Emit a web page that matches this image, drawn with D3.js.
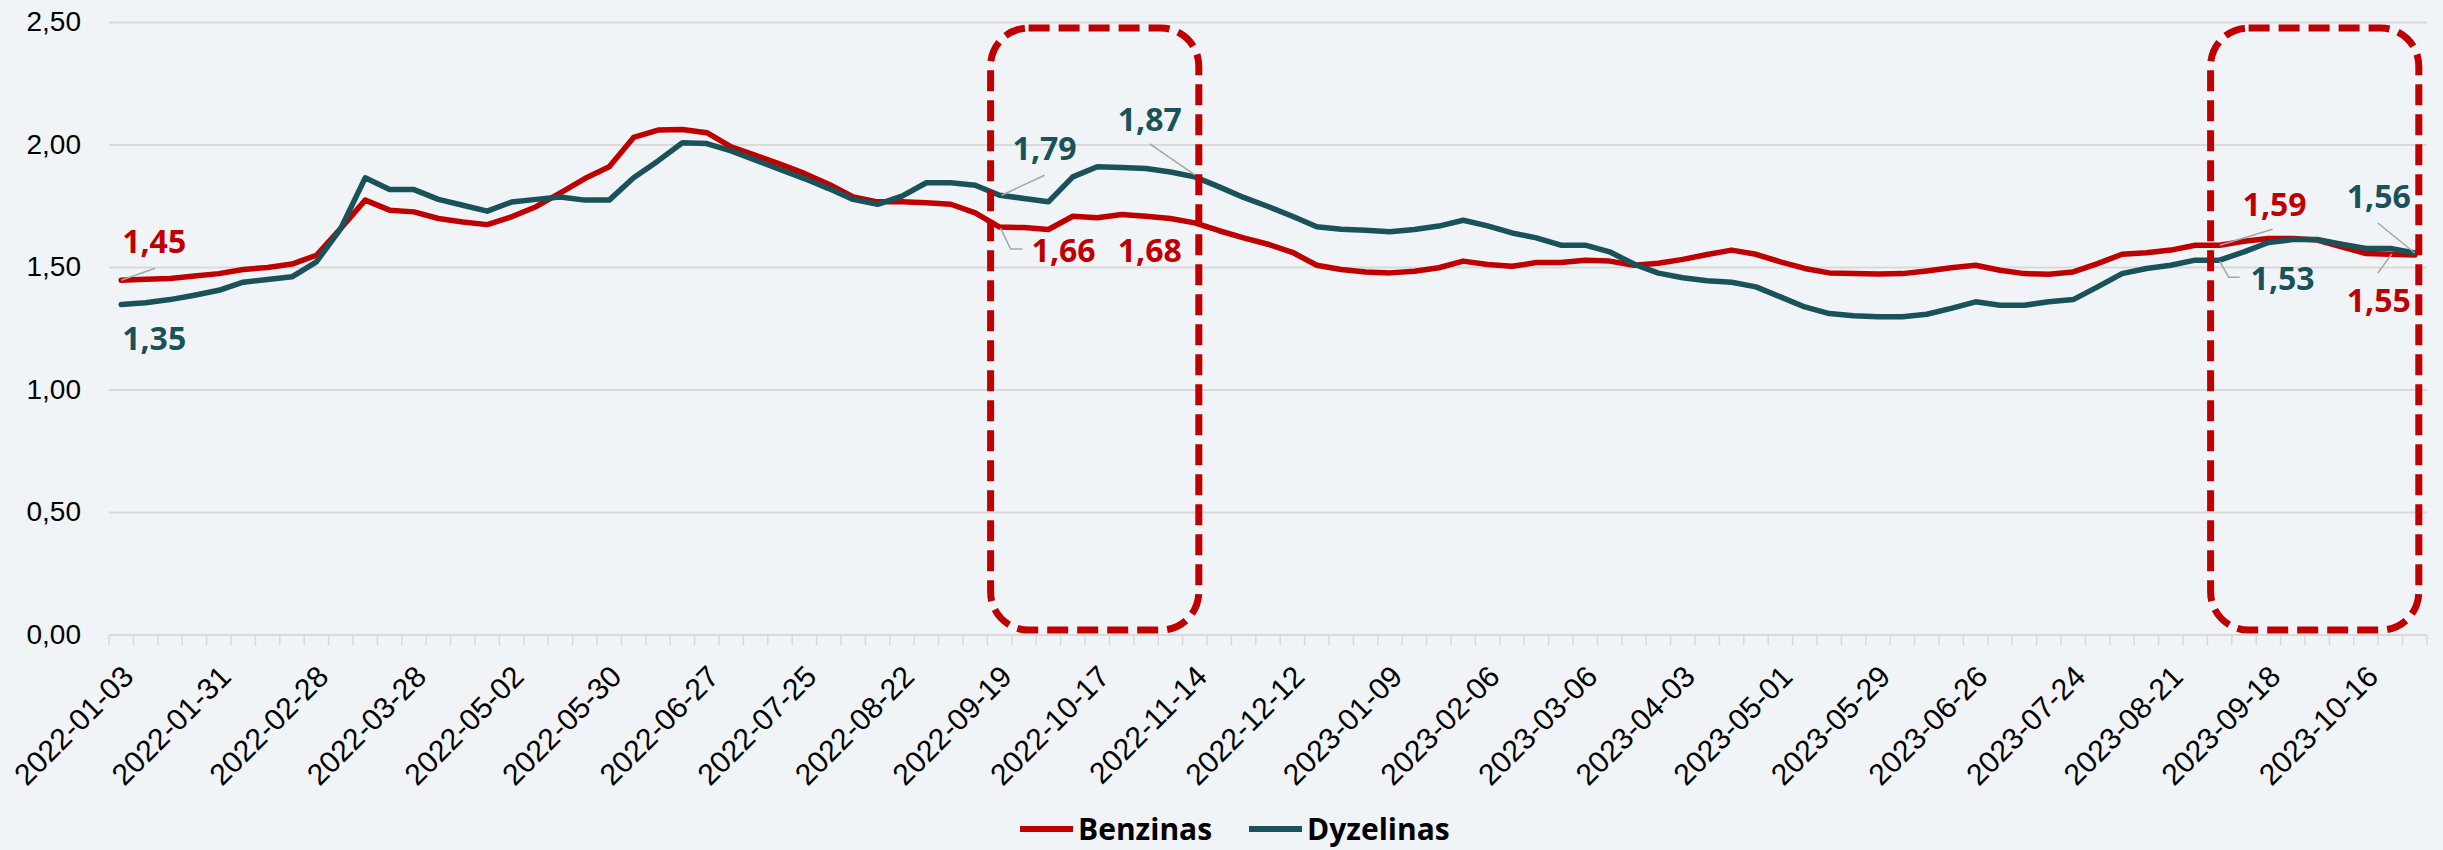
<!DOCTYPE html>
<html>
<head>
<meta charset="utf-8">
<script src="https://cdn.jsdelivr.net/npm/d3@7"></script>
<style>
  html, body { margin: 0; padding: 0; background: #F0F4F7; }
  svg { display: block; font-family: "Open Sans", sans-serif; }
</style>
</head>
<body>
<div id="chart"></div>
<script>
const categories = [
  "2022-01-03","2022-01-10","2022-01-17","2022-01-24","2022-01-31","2022-02-07","2022-02-14","2022-02-21",
  "2022-02-28","2022-03-07","2022-03-14","2022-03-21","2022-03-28","2022-04-04","2022-04-11","2022-04-25",
  "2022-05-02","2022-05-09","2022-05-16","2022-05-23","2022-05-30","2022-06-06","2022-06-13","2022-06-20",
  "2022-06-27","2022-07-04","2022-07-11","2022-07-18","2022-07-25","2022-08-01","2022-08-08","2022-08-15",
  "2022-08-22","2022-08-29","2022-09-05","2022-09-12","2022-09-19","2022-09-26","2022-10-03","2022-10-10",
  "2022-10-17","2022-10-24","2022-10-31","2022-11-07","2022-11-14","2022-11-21","2022-11-28","2022-12-05",
  "2022-12-12","2022-12-19","2022-12-26","2023-01-02","2023-01-09","2023-01-16","2023-01-23","2023-01-30",
  "2023-02-06","2023-02-13","2023-02-20","2023-02-27","2023-03-06","2023-03-13","2023-03-20","2023-03-27",
  "2023-04-03","2023-04-10","2023-04-17","2023-04-24","2023-05-01","2023-05-08","2023-05-15","2023-05-22",
  "2023-05-29","2023-06-05","2023-06-12","2023-06-19","2023-06-26","2023-07-03","2023-07-10","2023-07-17",
  "2023-07-24","2023-07-31","2023-08-07","2023-08-14","2023-08-21","2023-08-28","2023-09-04","2023-09-11",
  "2023-09-18","2023-09-25","2023-10-02","2023-10-09","2023-10-16","2023-10-23","2023-10-30"
];

const benzinas = [
  1.446,1.450,1.453,1.463,1.473,1.490,1.498,1.512,1.548,1.658,1.773,1.732,1.725,1.698,1.684,1.673,
  1.705,1.746,1.803,1.861,1.909,2.029,2.059,2.061,2.048,1.990,1.956,1.920,1.882,1.838,1.786,1.766,
  1.766,1.762,1.756,1.721,1.663,1.661,1.653,1.707,1.701,1.714,1.707,1.698,1.680,1.648,1.619,1.593,
  1.560,1.507,1.490,1.480,1.476,1.483,1.497,1.524,1.510,1.503,1.518,1.518,1.528,1.524,1.507,1.515,
  1.531,1.551,1.569,1.552,1.521,1.494,1.476,1.473,1.471,1.473,1.484,1.497,1.507,1.487,1.473,1.470,
  1.480,1.514,1.552,1.558,1.569,1.589,1.589,1.605,1.616,1.616,1.610,1.582,1.555,1.552,1.549
];

const dyzelinas = [
  1.347,1.354,1.367,1.385,1.405,1.438,1.449,1.460,1.521,1.657,1.864,1.816,1.816,1.776,1.752,1.728,
  1.765,1.776,1.786,1.773,1.773,1.864,1.933,2.007,2.004,1.974,1.936,1.898,1.861,1.820,1.776,1.756,
  1.789,1.844,1.844,1.834,1.793,1.780,1.766,1.868,1.909,1.906,1.902,1.888,1.868,1.827,1.784,1.747,
  1.707,1.664,1.654,1.650,1.644,1.653,1.667,1.691,1.668,1.639,1.619,1.589,1.589,1.562,1.512,1.475,
  1.456,1.444,1.438,1.419,1.378,1.337,1.310,1.301,1.297,1.297,1.307,1.331,1.358,1.344,1.344,1.358,
  1.367,1.419,1.473,1.494,1.507,1.528,1.528,1.562,1.600,1.612,1.612,1.593,1.576,1.576,1.557
];

const yTicks = [0, 0.5, 1, 1.5, 2, 2.5];
const labelCats = categories.filter((d, i) => i % 4 === 0);

const seriesList = [
  { name: "Benzinas", values: benzinas, color: "#C00000" },
  { name: "Dyzelinas", values: dyzelinas, color: "#1A5259" }
];

// highlighted periods (index from / to)
const boxes = [[36, 44], [86, 94]];

// value callouts: series index, point index, label offset, leader path (relative to point)
const callouts = [
  { s: 0, i: 0, dx: 33, dy: -27, leader: [[0, 0], [34, -12]] },
  { s: 1, i: 0, dx: 33, dy: 46, leader: null },
  { s: 1, i: 36, dx: 45, dy: -35, leader: [[2, 0], [45, -20]] },
  { s: 0, i: 36, dx: 64, dy: 35, leader: [[1, 1], [11, 22], [23, 22]] },
  { s: 1, i: 44, dx: -45, dy: -46, leader: [[0, -2], [-45, -33]] },
  { s: 0, i: 44, dx: -45, dy: 39, leader: null },
  { s: 0, i: 86, dx: 55, dy: -29, leader: [[0, 0], [53, -16]] },
  { s: 1, i: 86, dx: 63, dy: 30, leader: [[0, 1], [9, 17], [20, 17]] },
  { s: 1, i: 94, dx: -36, dy: -45, leader: [[0, 0], [-37, -30]] },
  { s: 0, i: 94, dx: -36, dy: 57, leader: [[-23, -1], [-37, 18]] }
];

const width = 2443, height = 850;
const m = { left: 109, right: 2427, top: 22, bottom: 634.5 };
const fmt = v => d3.format(".2f")(v).replace(".", ",");

const svg = d3.select("#chart").append("svg")
  .attr("width", width)
  .attr("height", height);

svg.append("rect").attr("width", width).attr("height", height).attr("fill", "#F0F4F7");

const x = d3.scaleBand().domain(categories).range([m.left, m.right]).padding(0);
const cx = i => x(categories[i]) + x.bandwidth() / 2;
const y = d3.scaleLinear().domain([0, 2.5]).range([m.bottom, m.top]);

// gridlines + y labels
const yAxis = svg.append("g")
  .attr("transform", `translate(${m.left},0)`)
  .call(d3.axisLeft(y).tickValues(yTicks).tickFormat(fmt).tickSize(-(m.right - m.left)).tickPadding(28));
yAxis.select(".domain").remove();
yAxis.selectAll(".tick line").attr("stroke", "#D9D9D9").attr("stroke-width", 2);
yAxis.selectAll(".tick text")
  .attr("fill", "#000")
  .style("font-size", "28px");

// category tick marks at band edges
const edges = categories.map(c => x(c)).concat([m.right]);
svg.append("g").selectAll("line")
  .data(edges)
  .join("line")
  .attr("x1", d => d).attr("x2", d => d)
  .attr("y1", m.bottom).attr("y2", m.bottom + 11)
  .attr("stroke", "#D9D9D9").attr("stroke-width", 1.5);

// x labels
const xAxis = svg.append("g")
  .attr("transform", `translate(0,${m.bottom})`)
  .call(d3.axisBottom(x).tickValues(labelCats).tickSize(0));
xAxis.select(".domain").remove();
xAxis.selectAll(".tick text")
  .attr("fill", "#000")
  .style("font-size", "30px")
  .attr("text-anchor", "end")
  .attr("dy", null)
  .attr("y", 0)
  .attr("transform", "translate(14,44) rotate(-45)");

// lines
const line = d3.line()
  .x((d, i) => cx(i))
  .y(d => y(d));

svg.append("g").selectAll("path")
  .data(seriesList)
  .join("path")
  .attr("d", d => line(d.values))
  .attr("fill", "none")
  .attr("stroke", d => d.color)
  .attr("stroke-width", 5.5)
  .attr("stroke-linejoin", "round")
  .attr("stroke-linecap", "round");

// dashed highlight boxes
svg.append("g").selectAll("rect")
  .data(boxes)
  .join("rect")
  .attr("x", d => cx(d[0]) - 9)
  .attr("y", 28)
  .attr("width", d => cx(d[1]) + 4 - (cx(d[0]) - 9))
  .attr("height", 630 - 28)
  .attr("rx", 38)
  .attr("fill", "none")
  .attr("stroke", "#C00000")
  .attr("stroke-width", 7)
  .attr("stroke-dasharray", "21,9");

// callouts
const cg = svg.append("g");
callouts.forEach(c => {
  const s = seriesList[c.s];
  const px = cx(c.i), py = y(s.values[c.i]);
  if (c.leader) {
    cg.append("path")
      .attr("d", d3.line()(c.leader.map(p => [px + p[0], py + p[1]])))
      .attr("fill", "none")
      .attr("stroke", "#A6A6A6")
      .attr("stroke-width", 1.5);
  }
  cg.append("text")
    .attr("x", px + c.dx)
    .attr("y", py + c.dy)
    .attr("text-anchor", "middle")
    .attr("fill", s.color)
    .style("font-size", "32px")
    .style("font-weight", "bold")
    .text(fmt(s.values[c.i]));
});

// legend
const legendItems = [
  { s: seriesList[0], x: 1020 },
  { s: seriesList[1], x: 1249 }
];
const lg = svg.append("g");
legendItems.forEach(d => {
  lg.append("line")
    .attr("x1", d.x).attr("x2", d.x + 53)
    .attr("y1", 829).attr("y2", 829)
    .attr("stroke", d.s.color).attr("stroke-width", 6);
  lg.append("text")
    .attr("x", d.x + 58)
    .attr("y", 829)
    .attr("dy", "0.35em")
    .attr("fill", "#000")
    .style("font-size", "30px")
    .style("font-weight", "bold")
    .text(d.s.name);
});
</script>
</body>
</html>
